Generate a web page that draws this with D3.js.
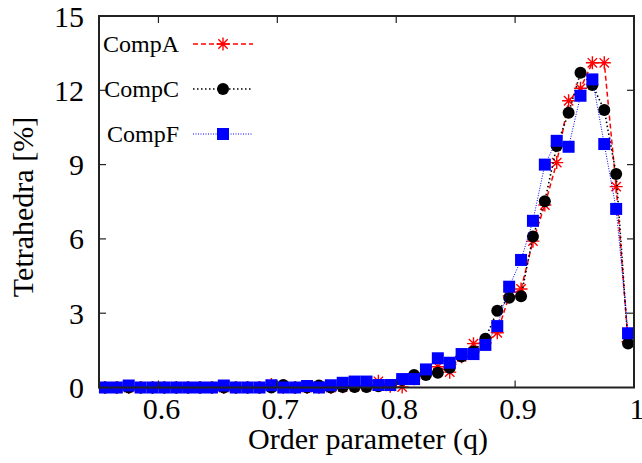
<!DOCTYPE html>
<html><head><meta charset="utf-8">
<script src="https://cdn.jsdelivr.net/npm/d3@7"></script>
<style>body{margin:0;background:#fff}svg{display:block}</style>
</head><body>
<script>
const qValues = [0.555,0.565,0.575,0.585,0.595,0.605,0.615,0.625,0.635,0.645,0.655,0.665,0.675,0.685,0.695,0.705,0.715,0.725,0.735,0.745,0.755,0.765,0.775,0.785,0.795,0.805,0.815,0.825,0.835,0.845,0.855,0.865,0.875,0.885,0.895,0.905,0.915,0.925,0.935,0.945,0.955,0.965,0.975,0.985,0.995];
const compA = [0,0,0,0,0,0,0,0,0,0,0,0,0,0,0.12,0,0,0,0,0,0.03,0.05,0.05,0.25,0.05,0.02,0.35,0.6,0.84,0.62,1.24,1.77,1.8,2.21,3.7,3.98,5.91,7.37,9.08,11.58,12.08,13.11,13.11,8.11,1.85];
const compC = [0,0,0,0,0,0,0,0,0,0,0,0,0,0,0,0.1,0,0,0.08,0,0.02,0.02,0.02,0.05,0.1,0.3,0.5,0.5,0.6,0.8,1.25,1.45,1.97,3.1,3.62,3.68,6.1,7.52,9.75,11.09,12.71,12.21,11.2,8.62,1.78];
const compF = [0,0,0.08,0,0,0,0,0,0,0,0.08,0,0,0,0.09,0,0,0.06,0,0.09,0.19,0.24,0.24,0.1,0.1,0.34,0.34,0.73,1.18,1.0,1.35,1.35,1.72,2.48,4.07,5.15,6.73,9.0,9.96,9.72,11.78,12.44,9.83,7.21,2.19];
const seriesNames = ["CompA","CompC","CompF"];
const xTicks = [0.6,0.7,0.8,0.9,1];
const yTicks = [0,3,6,9,12,15];

const FONT = "'Liberation Serif', 'Times New Roman', Times, 'DejaVu Serif', serif";
const W=642,H=463;
const L=99,R=634,T=16,B=387.5;
const svg=d3.select("body").append("svg").attr("width",W).attr("height",H)
  .attr("font-family",FONT);
const x=d3.scaleLinear().domain([0.55,1.0]).range([L,R]);
const y=d3.scaleLinear().domain([0,15]).range([B,T]);

const styles={
  CompA:{color:"#ff0000",dash:"5,3",width:1.5,marker:"star",data:compA},
  CompC:{color:"#000000",dash:"1.5,2.5",width:1.6,marker:"circle",data:compC},
  CompF:{color:"#0000ff",dash:"1,1.5",width:1,marker:"square",data:compF}
};
function drawMarker(g,type,color){
  if(type==="star"){
    const r=6.5;
    const p=`M${-r},0H${r}M0,${-r}V${r}M${-r*0.72},${-r*0.72}L${r*0.72},${r*0.72}M${-r*0.72},${r*0.72}L${r*0.72},${-r*0.72}`;
    g.append("path").attr("d",p).attr("stroke",color).attr("stroke-width",1.4).attr("fill","none");
  }else if(type==="circle"){
    g.append("circle").attr("r",6).attr("fill",color);
  }else{
    g.append("rect").attr("x",-6).attr("y",-6).attr("width",12).attr("height",12).attr("fill",color);
  }
}
const plot=svg.append("g");
seriesNames.forEach(name=>{
  const s=styles[name];
  const pts=qValues.map((q,i)=>[q,s.data[i]]);
  const line=d3.line().x(d=>x(d[0])).y(d=>y(d[1]));
  plot.append("path").attr("d",line(pts)).attr("fill","none").attr("stroke",s.color)
    .attr("stroke-width",s.width).attr("stroke-dasharray",s.dash);
  pts.forEach(d=>{
    const g=plot.append("g").attr("transform",`translate(${x(d[0])},${y(d[1])})`);
    drawMarker(g,s.marker,s.color);
  });
});

// Legend
const legY=[44,89,134];
seriesNames.forEach((name,i)=>{
  const s=styles[name];
  svg.append("text").attr("x",179).attr("y",legY[i]).attr("dy","0.34em").attr("text-anchor","end")
    .attr("font-size",24).text(name);
  svg.append("line").attr("x1",193).attr("x2",253).attr("y1",legY[i]).attr("y2",legY[i])
    .attr("stroke",s.color).attr("stroke-width",s.width).attr("stroke-dasharray",s.dash);
  const g=svg.append("g").attr("transform",`translate(223,${legY[i]})`);
  drawMarker(g,s.marker,s.color);
});

// Border and ticks
const axisColor="#222";
svg.append("rect").attr("x",L).attr("y",T).attr("width",R-L).attr("height",B-T)
  .attr("fill","none").attr("stroke",axisColor).attr("stroke-width",2);
const tl=7;
xTicks.forEach(t=>{
  if(t<1){
    svg.append("line").attr("x1",x(t)).attr("x2",x(t)).attr("y1",B).attr("y2",B-tl).attr("stroke",axisColor).attr("stroke-width",1.2);
    svg.append("line").attr("x1",x(t)).attr("x2",x(t)).attr("y1",T).attr("y2",T+tl).attr("stroke",axisColor).attr("stroke-width",1.2);
  }
  svg.append("text").attr("x",x(t)+3).attr("y",419).attr("text-anchor","middle").attr("font-size",30).text(d3.format("")(t));
});
yTicks.forEach(t=>{
  if(t>0&&t<15){
    svg.append("line").attr("x1",L).attr("x2",L+tl).attr("y1",y(t)).attr("y2",y(t)).attr("stroke",axisColor).attr("stroke-width",1.2);
    svg.append("line").attr("x1",R).attr("x2",R-tl).attr("y1",y(t)).attr("y2",y(t)).attr("stroke",axisColor).attr("stroke-width",1.2);
  }
  svg.append("text").attr("x",84).attr("y",y(t)).attr("dy","0.35em").attr("text-anchor","end").attr("font-size",30).text(t);
});
svg.append("text").attr("x",368).attr("y",449).attr("text-anchor","middle").attr("font-size",30).text("Order parameter (q)");
svg.append("text").attr("transform","translate(33,207) rotate(-90)").attr("text-anchor","middle").attr("font-size",30).text("Tetrahedra [%]");
</script>
</body></html>
